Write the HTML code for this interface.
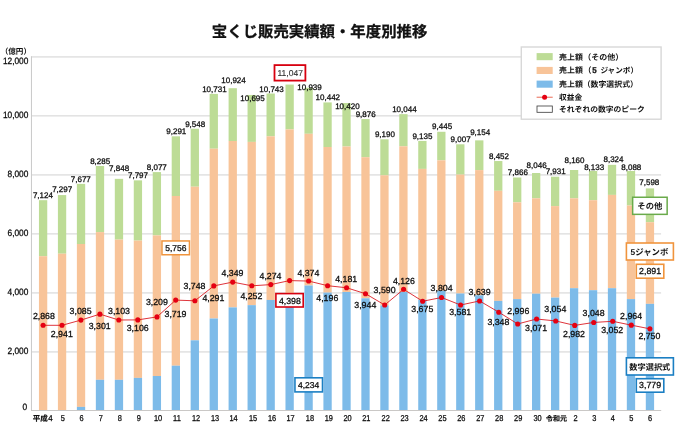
<!DOCTYPE html>
<html lang="ja"><head><meta charset="utf-8"><title>宝くじ販売実績額・年度別推移</title><style>html,body{margin:0;padding:0;background:#fff;overflow:hidden}svg{display:block;will-change:transform}text{font-family:"Liberation Sans","Noto Sans CJK JP",sans-serif;fill:#0c0c0c;stroke:#0c0c0c;stroke-width:.27px;text-rendering:geometricPrecision}</style></head><body>
<svg width="677" height="430" viewBox="0 0 677 430">
<rect width="677" height="430" fill="#fff"/>
<rect x="31.5" y="56.1" width="629.6" height="1.6" fill="#e3e3e3"/>
<rect x="31.5" y="115" width="629.6" height="1.6" fill="#e3e3e3"/>
<rect x="31.5" y="174.1" width="629.6" height="1.6" fill="#e3e3e3"/>
<rect x="31.5" y="233.05" width="629.6" height="1.6" fill="#e3e3e3"/>
<rect x="31.5" y="292.1" width="629.6" height="1.6" fill="#e3e3e3"/>
<rect x="31.5" y="351.1" width="629.6" height="1.6" fill="#e3e3e3"/>
<rect x="38.95" y="200.18" width="8.3" height="56.02" fill="#bddc96"/>
<rect x="38.95" y="256.2" width="8.3" height="154" fill="#f8c499"/>
<rect x="57.91" y="195.08" width="8.3" height="58.62" fill="#bddc96"/>
<rect x="57.91" y="253.7" width="8.3" height="156.5" fill="#f8c499"/>
<rect x="76.88" y="183.88" width="8.3" height="60.12" fill="#bddc96"/>
<rect x="76.88" y="244" width="8.3" height="162.9" fill="#f8c499"/>
<rect x="76.88" y="406.9" width="8.3" height="3.3" fill="#7dbbe9"/>
<rect x="95.84" y="165.97" width="8.3" height="66.13" fill="#bddc96"/>
<rect x="95.84" y="232.1" width="8.3" height="147.7" fill="#f8c499"/>
<rect x="95.84" y="379.8" width="8.3" height="30.4" fill="#7dbbe9"/>
<rect x="114.81" y="178.84" width="8.3" height="60.76" fill="#bddc96"/>
<rect x="114.81" y="239.6" width="8.3" height="140.2" fill="#f8c499"/>
<rect x="114.81" y="379.8" width="8.3" height="30.4" fill="#7dbbe9"/>
<rect x="133.77" y="180.35" width="8.3" height="60.25" fill="#bddc96"/>
<rect x="133.77" y="240.6" width="8.3" height="137.3" fill="#f8c499"/>
<rect x="133.77" y="377.9" width="8.3" height="32.3" fill="#7dbbe9"/>
<rect x="152.73" y="172.1" width="8.3" height="63.3" fill="#bddc96"/>
<rect x="152.73" y="235.4" width="8.3" height="140.6" fill="#f8c499"/>
<rect x="152.73" y="376" width="8.3" height="34.2" fill="#7dbbe9"/>
<rect x="171.7" y="136.32" width="8.3" height="59.68" fill="#bddc96"/>
<rect x="171.7" y="196" width="8.3" height="169.7" fill="#f8c499"/>
<rect x="171.7" y="365.7" width="8.3" height="44.5" fill="#7dbbe9"/>
<rect x="190.66" y="128.75" width="8.3" height="57.95" fill="#bddc96"/>
<rect x="190.66" y="186.7" width="8.3" height="153.6" fill="#f8c499"/>
<rect x="190.66" y="340.3" width="8.3" height="69.9" fill="#7dbbe9"/>
<rect x="209.63" y="93.89" width="8.3" height="54.81" fill="#bddc96"/>
<rect x="209.63" y="148.7" width="8.3" height="169.8" fill="#f8c499"/>
<rect x="209.63" y="318.5" width="8.3" height="91.7" fill="#7dbbe9"/>
<rect x="228.59" y="88.2" width="8.3" height="52.8" fill="#bddc96"/>
<rect x="228.59" y="141" width="8.3" height="166.4" fill="#f8c499"/>
<rect x="228.59" y="307.4" width="8.3" height="102.8" fill="#7dbbe9"/>
<rect x="247.55" y="94.95" width="8.3" height="46.95" fill="#bddc96"/>
<rect x="247.55" y="141.9" width="8.3" height="163.25" fill="#f8c499"/>
<rect x="247.55" y="305.15" width="8.3" height="105.05" fill="#7dbbe9"/>
<rect x="266.52" y="93.54" width="8.3" height="42.76" fill="#bddc96"/>
<rect x="266.52" y="136.3" width="8.3" height="163.65" fill="#f8c499"/>
<rect x="266.52" y="299.95" width="8.3" height="110.25" fill="#7dbbe9"/>
<rect x="285.48" y="84.58" width="8.3" height="44.82" fill="#bddc96"/>
<rect x="285.48" y="129.4" width="8.3" height="168.6" fill="#f8c499"/>
<rect x="285.48" y="298" width="8.3" height="112.2" fill="#7dbbe9"/>
<rect x="304.45" y="87.76" width="8.3" height="46.04" fill="#bddc96"/>
<rect x="304.45" y="133.8" width="8.3" height="151.7" fill="#f8c499"/>
<rect x="304.45" y="285.5" width="8.3" height="124.7" fill="#7dbbe9"/>
<rect x="323.41" y="102.41" width="8.3" height="44.59" fill="#bddc96"/>
<rect x="323.41" y="147" width="8.3" height="145.6" fill="#f8c499"/>
<rect x="323.41" y="292.6" width="8.3" height="117.6" fill="#7dbbe9"/>
<rect x="342.37" y="103.05" width="8.3" height="43.45" fill="#bddc96"/>
<rect x="342.37" y="146.5" width="8.3" height="145.5" fill="#f8c499"/>
<rect x="342.37" y="292" width="8.3" height="118.2" fill="#7dbbe9"/>
<rect x="361.34" y="119.08" width="8.3" height="38.12" fill="#bddc96"/>
<rect x="361.34" y="157.2" width="8.3" height="141.1" fill="#f8c499"/>
<rect x="361.34" y="298.3" width="8.3" height="111.9" fill="#7dbbe9"/>
<rect x="380.3" y="139.3" width="8.3" height="36" fill="#bddc96"/>
<rect x="380.3" y="175.3" width="8.3" height="130.1" fill="#f8c499"/>
<rect x="380.3" y="305.4" width="8.3" height="104.8" fill="#7dbbe9"/>
<rect x="399.27" y="114.13" width="8.3" height="32.17" fill="#bddc96"/>
<rect x="399.27" y="146.3" width="8.3" height="145.7" fill="#f8c499"/>
<rect x="399.27" y="292" width="8.3" height="118.2" fill="#7dbbe9"/>
<rect x="418.23" y="140.92" width="8.3" height="27.98" fill="#bddc96"/>
<rect x="418.23" y="168.9" width="8.3" height="130.8" fill="#f8c499"/>
<rect x="418.23" y="299.7" width="8.3" height="110.5" fill="#7dbbe9"/>
<rect x="437.19" y="131.78" width="8.3" height="28.52" fill="#bddc96"/>
<rect x="437.19" y="160.3" width="8.3" height="130.5" fill="#f8c499"/>
<rect x="437.19" y="290.8" width="8.3" height="119.4" fill="#7dbbe9"/>
<rect x="456.16" y="144.3" width="8.3" height="30.3" fill="#bddc96"/>
<rect x="456.16" y="174.6" width="8.3" height="118.9" fill="#f8c499"/>
<rect x="456.16" y="293.5" width="8.3" height="116.7" fill="#7dbbe9"/>
<rect x="475.12" y="140.36" width="8.3" height="29.74" fill="#bddc96"/>
<rect x="475.12" y="170.1" width="8.3" height="125.2" fill="#f8c499"/>
<rect x="475.12" y="295.3" width="8.3" height="114.9" fill="#7dbbe9"/>
<rect x="494.09" y="161.04" width="8.3" height="29.76" fill="#bddc96"/>
<rect x="494.09" y="190.8" width="8.3" height="110.1" fill="#f8c499"/>
<rect x="494.09" y="300.9" width="8.3" height="109.3" fill="#7dbbe9"/>
<rect x="513.05" y="177.5" width="8.3" height="24.8" fill="#bddc96"/>
<rect x="513.05" y="202.3" width="8.3" height="96.8" fill="#f8c499"/>
<rect x="513.05" y="299.1" width="8.3" height="111.1" fill="#7dbbe9"/>
<rect x="532.01" y="173.01" width="8.3" height="25.29" fill="#bddc96"/>
<rect x="532.01" y="198.3" width="8.3" height="95.4" fill="#f8c499"/>
<rect x="532.01" y="293.7" width="8.3" height="116.5" fill="#7dbbe9"/>
<rect x="550.98" y="176.7" width="8.3" height="29.4" fill="#bddc96"/>
<rect x="550.98" y="206.1" width="8.3" height="91.5" fill="#f8c499"/>
<rect x="550.98" y="297.6" width="8.3" height="112.6" fill="#7dbbe9"/>
<rect x="569.94" y="170" width="8.3" height="28.3" fill="#bddc96"/>
<rect x="569.94" y="198.3" width="8.3" height="89.9" fill="#f8c499"/>
<rect x="569.94" y="288.2" width="8.3" height="122" fill="#7dbbe9"/>
<rect x="588.91" y="170.9" width="8.3" height="29.3" fill="#bddc96"/>
<rect x="588.91" y="200.2" width="8.3" height="90" fill="#f8c499"/>
<rect x="588.91" y="290.2" width="8.3" height="120" fill="#7dbbe9"/>
<rect x="607.87" y="164.82" width="8.3" height="30.08" fill="#bddc96"/>
<rect x="607.87" y="194.9" width="8.3" height="93.3" fill="#f8c499"/>
<rect x="607.87" y="288.2" width="8.3" height="122" fill="#7dbbe9"/>
<rect x="626.83" y="171" width="8.3" height="34.5" fill="#bddc96"/>
<rect x="626.83" y="205.5" width="8.3" height="93.6" fill="#f8c499"/>
<rect x="626.83" y="299.1" width="8.3" height="111.1" fill="#7dbbe9"/>
<rect x="645.8" y="188.4" width="8.3" height="33.8" fill="#bddc96"/>
<rect x="645.8" y="222.2" width="8.3" height="81.65" fill="#f8c499"/>
<rect x="645.8" y="303.85" width="8.3" height="106.35" fill="#7dbbe9"/>
<rect x="30.95" y="56.2" width="1" height="354.3" fill="#c9c9c9"/>
<rect x="31" y="410.0" width="630.2" height="0.9" fill="#c4c2c0"/>
<text transform="translate(28.35,64.4) scale(0.905,1)" font-size="9.2" text-anchor="end">12,000</text>
<text transform="translate(28.35,118.1) scale(0.905,1)" font-size="9.2" text-anchor="end">10,000</text>
<text transform="translate(28.35,177.1) scale(0.905,1)" font-size="9.2" text-anchor="end">8,000</text>
<text transform="translate(28.35,236) scale(0.905,1)" font-size="9.2" text-anchor="end">6,000</text>
<text transform="translate(28.35,295) scale(0.905,1)" font-size="9.2" text-anchor="end">4,000</text>
<text transform="translate(28.35,354) scale(0.905,1)" font-size="9.2" text-anchor="end">2,000</text>
<text transform="translate(27.2,410.3) scale(0.905,1)" font-size="9.2" text-anchor="end">0</text>
<text x="15.85" y="53.7" font-size="7.6" font-weight="bold" text-anchor="middle" style="fill:#111;stroke:none">（億円）</text>
<text transform="translate(62.7,420.8) scale(0.87,1)" font-size="8.5" text-anchor="middle" stroke-width="0.5">5</text>
<text transform="translate(81.6,420.8) scale(0.87,1)" font-size="8.5" text-anchor="middle" stroke-width="0.5">6</text>
<text transform="translate(100.85,420.8) scale(0.87,1)" font-size="8.5" text-anchor="middle" stroke-width="0.5">7</text>
<text transform="translate(119.9,420.8) scale(0.87,1)" font-size="8.5" text-anchor="middle" stroke-width="0.5">8</text>
<text transform="translate(138.8,420.8) scale(0.87,1)" font-size="8.5" text-anchor="middle" stroke-width="0.5">9</text>
<text transform="translate(158,420.8) scale(0.87,1)" font-size="8.5" text-anchor="middle" stroke-width="0.5">10</text>
<text transform="translate(176.9,420.8) scale(0.87,1)" font-size="8.5" text-anchor="middle" stroke-width="0.5">11</text>
<text transform="translate(196.1,420.8) scale(0.87,1)" font-size="8.5" text-anchor="middle" stroke-width="0.5">12</text>
<text transform="translate(215,420.8) scale(0.87,1)" font-size="8.5" text-anchor="middle" stroke-width="0.5">13</text>
<text transform="translate(233.55,420.8) scale(0.87,1)" font-size="8.5" text-anchor="middle" stroke-width="0.5">14</text>
<text transform="translate(253.05,420.8) scale(0.87,1)" font-size="8.5" text-anchor="middle" stroke-width="0.5">15</text>
<text transform="translate(272.1,420.8) scale(0.87,1)" font-size="8.5" text-anchor="middle" stroke-width="0.5">16</text>
<text transform="translate(290.6,420.8) scale(0.87,1)" font-size="8.5" text-anchor="middle" stroke-width="0.5">17</text>
<text transform="translate(309.9,420.8) scale(0.87,1)" font-size="8.5" text-anchor="middle" stroke-width="0.5">18</text>
<text transform="translate(328.8,420.8) scale(0.87,1)" font-size="8.5" text-anchor="middle" stroke-width="0.5">19</text>
<text transform="translate(347.5,420.8) scale(0.87,1)" font-size="8.5" text-anchor="middle" stroke-width="0.5">20</text>
<text transform="translate(366.3,420.8) scale(0.87,1)" font-size="8.5" text-anchor="middle" stroke-width="0.5">21</text>
<text transform="translate(385.7,420.8) scale(0.87,1)" font-size="8.5" text-anchor="middle" stroke-width="0.5">22</text>
<text transform="translate(404.6,420.8) scale(0.87,1)" font-size="8.5" text-anchor="middle" stroke-width="0.5">23</text>
<text transform="translate(423.5,420.8) scale(0.87,1)" font-size="8.5" text-anchor="middle" stroke-width="0.5">24</text>
<text transform="translate(442.4,420.8) scale(0.87,1)" font-size="8.5" text-anchor="middle" stroke-width="0.5">25</text>
<text transform="translate(461.35,420.8) scale(0.87,1)" font-size="8.5" text-anchor="middle" stroke-width="0.5">26</text>
<text transform="translate(480.3,420.8) scale(0.87,1)" font-size="8.5" text-anchor="middle" stroke-width="0.5">27</text>
<text transform="translate(499.2,420.8) scale(0.87,1)" font-size="8.5" text-anchor="middle" stroke-width="0.5">28</text>
<text transform="translate(518.2,420.8) scale(0.87,1)" font-size="8.5" text-anchor="middle" stroke-width="0.5">29</text>
<text transform="translate(537.6,420.8) scale(0.87,1)" font-size="8.5" text-anchor="middle" stroke-width="0.5">30</text>
<text transform="translate(575.5,420.8) scale(0.87,1)" font-size="8.5" text-anchor="middle" stroke-width="0.5">2</text>
<text transform="translate(594.3,420.8) scale(0.87,1)" font-size="8.5" text-anchor="middle" stroke-width="0.5">3</text>
<text transform="translate(612.9,420.8) scale(0.87,1)" font-size="8.5" text-anchor="middle" stroke-width="0.5">4</text>
<text transform="translate(631.3,420.8) scale(0.87,1)" font-size="8.5" text-anchor="middle" stroke-width="0.5">5</text>
<text transform="translate(650.1,420.8) scale(0.87,1)" font-size="8.5" text-anchor="middle" stroke-width="0.5">6</text>
<text x="32.8" y="421.3" font-size="7.5" font-weight="bold" text-anchor="start" style="fill:#111;stroke:#111;stroke-width:.2px">平成</text>
<text transform="translate(48.3,420.8) scale(0.93,1)" font-size="8.5" text-anchor="start" stroke-width="0.5">4</text>
<text x="556.6" y="421.3" font-size="7" font-weight="bold" text-anchor="middle" style="fill:#111;stroke:#111;stroke-width:.2px">令和元</text>
<rect x="521.3" y="47.0" width="139.8" height="72.2" fill="#fff" stroke="#d8d8d8" stroke-width="1.4"/>
<rect x="536.6" y="53.1" width="16.1" height="7.1" fill="#bddc96"/>
<rect x="536.6" y="66.9" width="16.1" height="7.1" fill="#f8c499"/>
<rect x="536.6" y="80.6" width="16.1" height="7.1" fill="#7dbbe9"/>
<rect x="536.6" y="96.6" width="16.1" height="1.4" fill="#f09484"/>
<circle cx="544.6" cy="97.3" r="2.5" fill="#e50012"/>
<rect x="537.0" y="106.0" width="15.3" height="6.3" fill="#fff" stroke="#3a3a3a" stroke-width="0.8"/>
<text x="559.1" y="60.45" font-size="7.9" font-weight="bold" style="fill:#111;stroke:none">売上額</text>
<text x="583.2" y="60.45" font-size="8" font-weight="bold" style="fill:#111;stroke:none">（その他）</text>
<text x="559.1" y="73.45" font-size="7.9" font-weight="bold" style="fill:#111;stroke:none">売上額</text>
<text x="583.4" y="73.45" font-size="8" font-weight="bold" style="fill:#111;stroke:none">（</text>
<text transform="translate(592.3,73.2) scale(0.95,1)" font-size="8.4" text-anchor="start" font-weight="bold" stroke-width="0">5</text>
<text x="600.4" y="73.45" font-size="7.6" font-weight="bold" style="fill:#111;stroke:none">ジャンボ）</text>
<text x="559.1" y="86.95" font-size="7.9" font-weight="bold" style="fill:#111;stroke:none">売上額</text>
<text x="582.7" y="86.95" font-size="7.9" font-weight="bold" style="fill:#111;stroke:none">（数字選択式）</text>
<text x="559.1" y="99.7" font-size="7.7" font-weight="bold" style="fill:#111;stroke:none">収益金</text>
<text x="559" y="112" font-size="7.8" font-weight="bold" style="fill:#111;stroke:none">それぞれの数字のピーク</text>
<polyline fill="none" stroke="#d80f18" stroke-width="0.85" stroke-linejoin="round" points="43.1,325.3 62,325.3 80.9,320.1 99.9,314.15 118.8,320 137.8,319.9 157,316.9 175.7,300.1 194.9,300.8 213.8,285.9 232.7,282.1 251.8,285.8 270.8,284.6 289.6,280.6 308.6,281.05 327.6,285.7 346.55,287.75 365.5,293.7 384.7,305 403.6,289.3 422.65,301.25 441.55,297.5 460.6,305 479.6,300.95 498.75,312.2 517.7,323.95 536.6,319 555.7,320.95 574.7,325.4 593.7,322.45 612.7,321.3 631.3,325.15 649.9,328.85"/>
<circle cx="43.1" cy="325.3" r="2.55" fill="#e50012"/>
<circle cx="62" cy="325.3" r="2.55" fill="#e50012"/>
<circle cx="80.9" cy="320.1" r="2.55" fill="#e50012"/>
<circle cx="99.9" cy="314.15" r="2.55" fill="#e50012"/>
<circle cx="118.8" cy="320" r="2.55" fill="#e50012"/>
<circle cx="137.8" cy="319.9" r="2.55" fill="#e50012"/>
<circle cx="157" cy="316.9" r="2.55" fill="#e50012"/>
<circle cx="175.7" cy="300.1" r="2.55" fill="#e50012"/>
<circle cx="194.9" cy="300.8" r="2.55" fill="#e50012"/>
<circle cx="213.8" cy="285.9" r="2.55" fill="#e50012"/>
<circle cx="232.7" cy="282.1" r="2.55" fill="#e50012"/>
<circle cx="251.8" cy="285.8" r="2.55" fill="#e50012"/>
<circle cx="270.8" cy="284.6" r="2.55" fill="#e50012"/>
<circle cx="289.6" cy="280.6" r="2.55" fill="#e50012"/>
<circle cx="308.6" cy="281.05" r="2.55" fill="#e50012"/>
<circle cx="327.6" cy="285.7" r="2.55" fill="#e50012"/>
<circle cx="346.55" cy="287.75" r="2.55" fill="#e50012"/>
<circle cx="365.5" cy="293.7" r="2.55" fill="#e50012"/>
<circle cx="384.7" cy="305" r="2.55" fill="#e50012"/>
<circle cx="403.6" cy="289.3" r="2.55" fill="#e50012"/>
<circle cx="422.65" cy="301.25" r="2.55" fill="#e50012"/>
<circle cx="441.55" cy="297.5" r="2.55" fill="#e50012"/>
<circle cx="460.6" cy="305" r="2.55" fill="#e50012"/>
<circle cx="479.6" cy="300.95" r="2.55" fill="#e50012"/>
<circle cx="498.75" cy="312.2" r="2.55" fill="#e50012"/>
<circle cx="517.7" cy="323.95" r="2.55" fill="#e50012"/>
<circle cx="536.6" cy="319" r="2.55" fill="#e50012"/>
<circle cx="555.7" cy="320.95" r="2.55" fill="#e50012"/>
<circle cx="574.7" cy="325.4" r="2.55" fill="#e50012"/>
<circle cx="593.7" cy="322.45" r="2.55" fill="#e50012"/>
<circle cx="612.7" cy="321.3" r="2.55" fill="#e50012"/>
<circle cx="631.3" cy="325.15" r="2.55" fill="#e50012"/>
<circle cx="649.9" cy="328.85" r="2.55" fill="#e50012"/>
<rect x="274.5" y="65.1" width="30.9" height="15.5" fill="#fff" stroke="#d7000f" stroke-width="1.8"/>
<text x="290.2" y="75.8" font-size="8.5" text-anchor="middle" style="fill:#2e2e2e;stroke:#2e2e2e;stroke-width:.1px">11,047</text>
<rect x="161.95" y="240.95" width="27.5" height="13.8" fill="#fff" stroke="#f0943d" stroke-width="1.5"/>
<text x="175.8" y="250.8" font-size="8.5" text-anchor="middle">5,756</text>
<rect x="275.9" y="293.6" width="27.3" height="13.4" fill="#fff" stroke="#d7000f" stroke-width="1.6"/>
<text x="289.9" y="303.7" font-size="8.8" text-anchor="middle">4,398</text>
<rect x="294.95" y="377.8" width="27.55" height="14.1" fill="#fff" stroke="#1b7fc3" stroke-width="1.6"/>
<text x="308.6" y="387.8" font-size="8.5" text-anchor="middle">4,234</text>
<rect x="632.65" y="197.25" width="34.5" height="17.1" fill="#fff" stroke="#6aaa4b" stroke-width="1.5"/>
<text x="649.8" y="209.4" font-size="8.3" font-weight="bold" text-anchor="middle" style="fill:#111;stroke:none">その他</text>
<rect x="626.4" y="243" width="47" height="17" fill="#fff" stroke="#f0943d" stroke-width="1.6"/>
<text x="630.6" y="255.2" font-size="8.4" font-weight="bold" text-anchor="start" style="fill:#111;stroke:none">5ジャンボ</text>
<rect x="636.3" y="264.3" width="27.5" height="13.9" fill="#fff" stroke="#f0943d" stroke-width="1.6"/>
<text x="650.1" y="274" font-size="8.8" text-anchor="middle">2,891</text>
<rect x="626.4" y="357.8" width="47" height="17.2" fill="#fff" stroke="#1b7fc3" stroke-width="1.6"/>
<text x="649.8" y="370.2" font-size="8.2" font-weight="bold" text-anchor="middle" style="fill:#111;stroke:none">数字選択式</text>
<rect x="636.3" y="378.7" width="27.5" height="13.5" fill="#fff" stroke="#1b7fc3" stroke-width="1.6"/>
<text x="650.1" y="388.1" font-size="8.8" text-anchor="middle">3,779</text>
<text x="42.9" y="197.9" font-size="8" text-anchor="middle">7,124</text>
<text x="62.2" y="192.4" font-size="8" text-anchor="middle">7,297</text>
<text x="80.8" y="182" font-size="8" text-anchor="middle">7,677</text>
<text x="100.2" y="164.1" font-size="8" text-anchor="middle">8,285</text>
<text x="119.1" y="170.6" font-size="8" text-anchor="middle">7,848</text>
<text x="138" y="178.3" font-size="8" text-anchor="middle">7,797</text>
<text x="156.8" y="169.85" font-size="8" text-anchor="middle">8,077</text>
<text x="176.3" y="134.1" font-size="8" text-anchor="middle">9,291</text>
<text x="195.2" y="126.7" font-size="8" text-anchor="middle">9,548</text>
<text x="214.4" y="91.9" font-size="8" text-anchor="middle">10,731</text>
<text x="233.5" y="83" font-size="8" text-anchor="middle">10,924</text>
<text x="252.5" y="100.8" font-size="8" text-anchor="middle">10,695</text>
<text x="271.5" y="91.9" font-size="8" text-anchor="middle">10,743</text>
<text x="309.5" y="90" font-size="8" text-anchor="middle">10,939</text>
<text x="327.8" y="100.1" font-size="8" text-anchor="middle">10,442</text>
<text x="347.4" y="109" font-size="8" text-anchor="middle">10,420</text>
<text x="365.7" y="117.1" font-size="8" text-anchor="middle">9,876</text>
<text x="384.9" y="136.9" font-size="8" text-anchor="middle">9,190</text>
<text x="404.4" y="112" font-size="8" text-anchor="middle">10,044</text>
<text x="422.4" y="138.8" font-size="8" text-anchor="middle">9,135</text>
<text x="442.1" y="129.05" font-size="8" text-anchor="middle">9,445</text>
<text x="460.6" y="142" font-size="8" text-anchor="middle">9,007</text>
<text x="480.2" y="135" font-size="8" text-anchor="middle">9,154</text>
<text x="499" y="158.8" font-size="8" text-anchor="middle">8,452</text>
<text x="517.85" y="174.7" font-size="8" text-anchor="middle">7,866</text>
<text x="536.6" y="168" font-size="8" text-anchor="middle">8,046</text>
<text x="555.7" y="174.2" font-size="8" text-anchor="middle">7,931</text>
<text x="574.5" y="163.1" font-size="8" text-anchor="middle">8,160</text>
<text x="594.2" y="169.8" font-size="8" text-anchor="middle">8,133</text>
<text x="613.5" y="161.9" font-size="8" text-anchor="middle">8,324</text>
<text x="631.3" y="169.8" font-size="8" text-anchor="middle">8,088</text>
<text x="649.3" y="185.4" font-size="8" text-anchor="middle">7,598</text>
<text x="43.9" y="318.8" font-size="8.8" text-anchor="middle">2,868</text>
<text x="61.8" y="336.6" font-size="8.8" text-anchor="middle">2,941</text>
<text x="80.6" y="313.9" font-size="8.8" text-anchor="middle">3,085</text>
<text x="99.7" y="328.8" font-size="8.8" text-anchor="middle">3,301</text>
<text x="119" y="313.9" font-size="8.8" text-anchor="middle">3,103</text>
<text x="137.7" y="330.6" font-size="8.8" text-anchor="middle">3,106</text>
<text x="156.9" y="305" font-size="8.8" text-anchor="middle">3,209</text>
<text x="175.5" y="316.9" font-size="8.8" text-anchor="middle">3,719</text>
<text x="194.5" y="288.9" font-size="8.8" text-anchor="middle">3,748</text>
<text x="213.4" y="300.5" font-size="8.8" text-anchor="middle">4,291</text>
<text x="232.5" y="275.7" font-size="8.8" text-anchor="middle">4,349</text>
<text x="251.4" y="298.5" font-size="8.8" text-anchor="middle">4,252</text>
<text x="270.5" y="278.7" font-size="8.8" text-anchor="middle">4,274</text>
<text x="308.4" y="275.7" font-size="8.8" text-anchor="middle">4,374</text>
<text x="327.3" y="300.8" font-size="8.8" text-anchor="middle">4,196</text>
<text x="346.2" y="282.15" font-size="8.8" text-anchor="middle">4,181</text>
<text x="365.3" y="308.2" font-size="8.8" text-anchor="middle">3,944</text>
<text x="384.6" y="292.6" font-size="8.8" text-anchor="middle">3,590</text>
<text x="403.9" y="283.7" font-size="8.8" text-anchor="middle">4,126</text>
<text x="422.3" y="311.7" font-size="8.8" text-anchor="middle">3,675</text>
<text x="441.6" y="290.8" font-size="8.8" text-anchor="middle">3,804</text>
<text x="460.2" y="315.4" font-size="8.8" text-anchor="middle">3,581</text>
<text x="479.6" y="294.55" font-size="8.8" text-anchor="middle">3,639</text>
<text x="498.4" y="324.5" font-size="8.8" text-anchor="middle">3,348</text>
<text x="518.3" y="313.5" font-size="8.8" text-anchor="middle">2,996</text>
<text x="536.1" y="331.4" font-size="8.8" text-anchor="middle">3,071</text>
<text x="555.3" y="311.6" font-size="8.8" text-anchor="middle">3,054</text>
<text x="574" y="336.6" font-size="8.8" text-anchor="middle">2,982</text>
<text x="593.6" y="315.75" font-size="8.8" text-anchor="middle">3,048</text>
<text x="612.2" y="332.9" font-size="8.8" text-anchor="middle">3,052</text>
<text x="631.1" y="318.75" font-size="8.8" text-anchor="middle">2,964</text>
<text x="649.4" y="339.1" font-size="8.8" text-anchor="middle">2,750</text>
<text x="319.6" y="36.9" font-size="15.4" font-weight="bold" text-anchor="middle" style="fill:#111;stroke:#111;stroke-width:.3px">宝くじ販売実績額・年度別推移</text>
</svg></body></html>
